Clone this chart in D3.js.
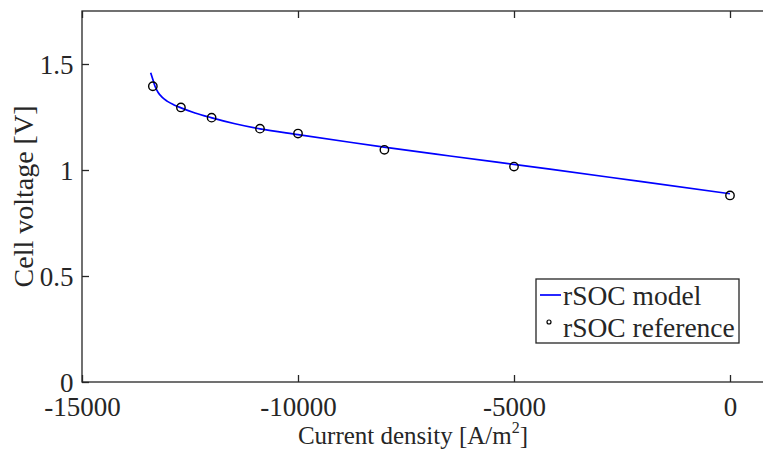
<!DOCTYPE html>
<html>
<head>
<meta charset="utf-8">
<script src="https://cdn.jsdelivr.net/npm/d3@7"></script>
<style>
  html, body { margin: 0; padding: 0; background: #fff; }
  svg { display: block; }
  text { font-family: "Liberation Serif", "Times New Roman", serif; fill: #262626; }
</style>
</head>
<body>
<svg id="chart" width="763" height="462"></svg>
<script>
// rSOC polarisation curve: model vs. reference measurements
const modelCurrent = [-13410, -13356, -13310, -13241, -13148, -13032, -12870, -12708, -12384, -12014, -11458, -10880, -10000, -8796, -8009, -6481, -4167, -2083, 0];
const modelVoltage = [1.459, 1.424, 1.395, 1.367, 1.344, 1.325, 1.307, 1.293, 1.269, 1.247, 1.218, 1.194, 1.167, 1.131, 1.108, 1.066, 1.004, 0.946, 0.888];

const refCurrent = [-13360, -12710, -12000, -10880, -10000, -8000, -5000, 0];
const refVoltage = [1.395, 1.295, 1.247, 1.195, 1.172, 1.095, 1.016, 0.880];

const xTicks = [-15000, -10000, -5000, 0];
const yTicks = [0, 0.5, 1, 1.5];
const xDomain = [-15000, 1000];
const yDomain = [0, 1.75];

const seriesNames = ["rSOC model", "rSOC reference"];
const xLabel = "Current density [A/m";
const yLabel = "Cell voltage [V]";

const svg = d3.select("#chart");
const plotLeft = 82, plotTop = 11, plotBottom = 382;
const pxPerUnit = (730 - 82) / 15000;
const plotRight = plotLeft + (xDomain[1] - xDomain[0]) * pxPerUnit;

const x = d3.scaleLinear().domain(xDomain).range([plotLeft, plotRight]);
const y = d3.scaleLinear().domain(yDomain).range([plotBottom, plotTop]);

const axisColor = "#262626";
const tickLen = 7;

// plot area frame
svg.append("rect")
  .attr("x", plotLeft).attr("y", plotTop)
  .attr("width", plotRight - plotLeft).attr("height", plotBottom - plotTop)
  .attr("fill", "none").attr("stroke", axisColor).attr("stroke-width", 1.3);

// bottom axis (ticks pointing inward), plain hyphen for negatives
const xAxis = d3.axisBottom(x).tickValues(xTicks).tickSize(-tickLen).tickPadding(15)
  .tickFormat(d => String(d));
const gx = svg.append("g").attr("transform", `translate(0,${plotBottom})`).call(xAxis);
// top axis ticks
const gxt = svg.append("g").attr("transform", `translate(0,${plotTop})`)
  .call(d3.axisTop(x).tickValues(xTicks).tickSize(-tickLen).tickFormat(""));
// left axis
const yAxis = d3.axisLeft(y).tickValues(yTicks).tickSize(-tickLen).tickPadding(8.5)
  .tickFormat(d => String(d));
const gy = svg.append("g").attr("transform", `translate(${plotLeft},0)`).call(yAxis);

[gx, gxt, gy].forEach(g => {
  g.select(".domain").remove();
  g.selectAll(".tick line").attr("stroke", axisColor).attr("stroke-width", 1.3);
  g.selectAll(".tick text")
    .attr("font-family", "Liberation Serif, Times New Roman, serif")
    .attr("font-size", 27).attr("fill", axisColor);
});
gx.selectAll(".tick text").attr("dy", "0.71em");
gy.selectAll(".tick text").attr("dy", "0.35em");

// model curve
const line = d3.line()
  .x((d, i) => x(modelCurrent[i]))
  .y((d, i) => y(modelVoltage[i]))
  .curve(d3.curveMonotoneX);
svg.append("path")
  .datum(modelCurrent)
  .attr("d", line)
  .attr("fill", "none").attr("stroke", "#0000ff").attr("stroke-width", 1.7);

// reference measurements
svg.append("g").selectAll("circle")
  .data(refCurrent)
  .join("circle")
  .attr("cx", (d, i) => x(refCurrent[i]))
  .attr("cy", (d, i) => y(refVoltage[i]))
  .attr("r", 4.2)
  .attr("fill", "none").attr("stroke", "#000").attr("stroke-width", 1.4);

// axis titles
const xl = svg.append("text")
  .attr("x", 413).attr("y", 444)
  .attr("text-anchor", "middle").attr("font-size", 25);
xl.append("tspan").text(xLabel);
xl.append("tspan").attr("font-size", 16).attr("dy", -11).text("2");
xl.append("tspan").attr("dy", 11).text("]");

svg.append("text")
  .attr("transform", `translate(33,${(plotTop + plotBottom) / 2}) rotate(-90)`)
  .attr("text-anchor", "middle").attr("font-size", 28)
  .text(yLabel);

// legend
const lg = svg.append("g");
lg.append("rect")
  .attr("x", 536).attr("y", 279).attr("width", 203).attr("height", 64)
  .attr("fill", "#fff").attr("stroke", axisColor).attr("stroke-width", 1.3);
lg.append("line")
  .attr("x1", 540).attr("x2", 561).attr("y1", 295).attr("y2", 295)
  .attr("stroke", "#0000ff").attr("stroke-width", 1.7);
lg.append("circle")
  .attr("cx", 549).attr("cy", 322).attr("r", 2)
  .attr("fill", "none").attr("stroke", "#000").attr("stroke-width", 1.2);
lg.selectAll("text.lab")
  .data(seriesNames)
  .join("text")
  .attr("class", "lab")
  .attr("x", 563)
  .attr("y", (d, i) => 305 + i * 32)
  .attr("font-size", 27.5)
  .text(d => d);
</script>
</body>
</html>
